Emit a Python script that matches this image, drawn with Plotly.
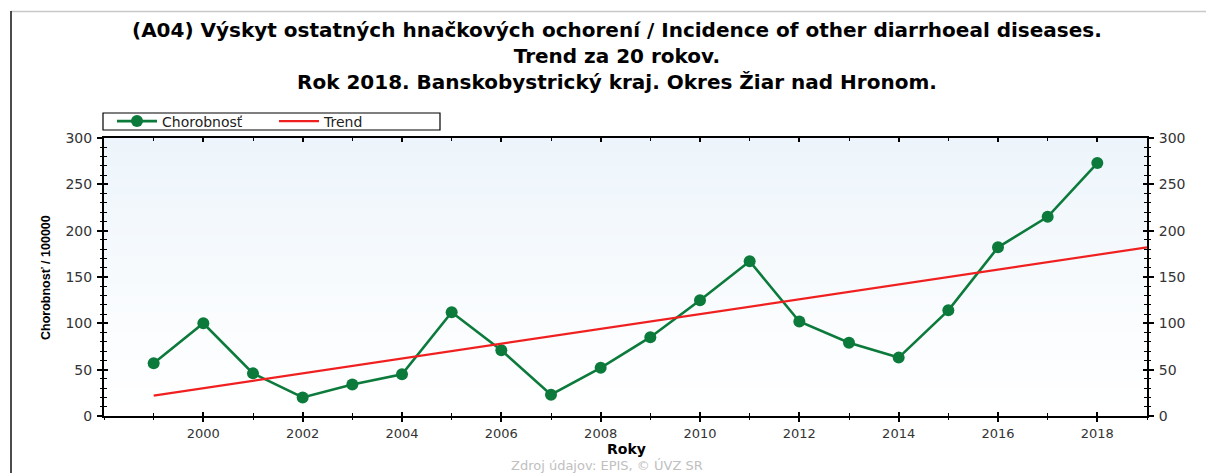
import plotly.graph_objects as go

years = list(range(1999, 2019))
chorobnost = [57, 100, 46, 20, 34, 45, 112, 71, 23, 52, 85, 125, 167, 102, 79, 63, 114, 182, 215, 273]
trend_years = [1999, 2019]
trend_vals = [22, 182]
x_tickvals = [2000, 2002, 2004, 2006, 2008, 2010, 2012, 2014, 2016, 2018]

title_lines = [
    "(A04) Výskyt ostatných hnačkových ochorení / Incidence of other diarrhoeal diseases.",
    "Trend za 20 rokov.",
    "Rok 2018. Banskobystrický kraj. Okres Žiar nad Hronom.",
]
x_title = "Roky"
y_title = "Chorobnosť / 100000"
source = "Zdroj údajov: EPIS, © ÚVZ SR"

W, H = 1206, 473
L, R, T, B = 104, 1147, 138, 416
pw, ph = R - L, B - T


def px(x):
    return (x - L) / pw


def py(y):
    return (B - y) / ph


GREEN = "#0b7a3b"
RED = "#f02020"
XTICKFONT = dict(family="DejaVu Sans", size=13, color="#333333")
YTICKFONT = dict(family="DejaVu Sans", size=14, color="#333333")

fig = go.Figure()
fig.add_trace(go.Scatter(
    x=years, y=chorobnost, name="Chorobnosť", mode="lines+markers",
    line=dict(color=GREEN, width=2.6),
    marker=dict(color=GREEN, size=12, symbol="circle"),
))
fig.add_trace(go.Scatter(
    x=trend_years, y=trend_vals, name="Trend", mode="lines",
    line=dict(color=RED, width=2.2),
))
# helper traces so overlay axes render
for xa, ya in [("x2", "y"), ("x", "y2"), ("x", "y3")]:
    fig.add_trace(go.Scatter(x=[None], y=[None], xaxis=xa, yaxis=ya,
                             showlegend=False, hoverinfo="skip"))

xr = [1998, 2019]
yr = [0, 300]

# gradient background bands
n = 40
shapes = []
for i in range(n):
    f = i / n
    t = f ** 1.2
    c0 = (255, 255, 255)
    c1 = (236, 244, 251)
    col = tuple(round(c0[k] + (c1[k] - c0[k]) * t) for k in range(3))
    shapes.append(dict(type="rect", xref="paper", yref="paper",
                       x0=0, x1=1, y0=i / n, y1=(i + 1) / n + 0.002,
                       fillcolor="rgb(%d,%d,%d)" % col, line=dict(width=0),
                       layer="below"))
# frame lines outside chart
shapes.append(dict(type="line", xref="paper", yref="paper",
                   x0=px(11), x1=px(1206), y0=py(11.5), y1=py(11.5),
                   line=dict(color="#c8c8c8", width=1.5)))
shapes.append(dict(type="line", xref="paper", yref="paper",
                   x0=px(11), x1=px(11), y0=py(11), y1=py(473),
                   line=dict(color="#111111", width=1.5)))
# legend box
shapes.append(dict(type="rect", xref="paper", yref="paper",
                   x0=px(103), x1=px(440), y0=py(130), y1=py(113),
                   fillcolor="white", line=dict(color="black", width=1.2)))

annotations = []
annotations.append(dict(
    text="<br>".join("<b>%s</b>" % s for s in title_lines),
    xref="paper", yref="paper",
    x=px(617), y=py(56), xanchor="center", yanchor="middle", align="center",
    showarrow=False, font=dict(family="DejaVu Sans", size=20, color="#000")))
annotations.append(dict(
    text="<b>%s</b>" % y_title, xref="paper", yref="paper",
    x=px(46), y=py(278), xanchor="center", yanchor="middle", textangle=-90,
    showarrow=False, font=dict(family="Liberation Sans", size=12.5, color="#000")))
annotations.append(dict(
    text="<b>%s</b>" % x_title, xref="paper", yref="paper",
    x=px(626), y=py(449), xanchor="center", yanchor="middle",
    showarrow=False, font=dict(family="DejaVu Sans", size=14, color="#000")))
annotations.append(dict(
    text=source, xref="paper", yref="paper",
    x=px(607), y=py(465), xanchor="center", yanchor="middle",
    showarrow=False, font=dict(family="DejaVu Sans", size=13, color="#c0c0c0")))

fig.update_layout(
    width=W, height=H,
    margin=dict(l=L, r=W - R, t=T, b=H - B, pad=0),
    paper_bgcolor="white", plot_bgcolor="white",
    shapes=shapes, annotations=annotations,
    showlegend=True,
    legend=dict(
        orientation="h", x=px(112), y=py(121.5), xanchor="left", yanchor="middle",
        bgcolor="rgba(0,0,0,0)", borderwidth=0,
        font=dict(family="DejaVu Sans", size=14, color="#222"),
        entrywidth=107, itemwidth=40,
    ),
    xaxis=dict(range=xr, showgrid=False, zeroline=False, showline=True,
               linecolor="black", linewidth=1.5, mirror="ticks",
               ticks="inside", ticklen=4, tickcolor="black", tickwidth=1.5,
               tickvals=x_tickvals, showticklabels=False,
               minor=dict(ticks="inside", ticklen=3, dtick=1, tickcolor="black", tickwidth=1)),
    xaxis2=dict(range=xr, overlaying="x", side="bottom", anchor="y",
                showgrid=False, zeroline=False, showline=False,
                ticks="outside", ticklen=5, tickcolor="black", tickwidth=1.5,
                tickvals=x_tickvals, tickfont=XTICKFONT,
                minor=dict(ticks="outside", ticklen=3, dtick=1, tickcolor="black", tickwidth=1)),
    yaxis=dict(range=yr, showgrid=False, zeroline=False, showline=True,
               linecolor="black", linewidth=1.5, mirror="ticks",
               ticks="inside", ticklen=4, tickcolor="black", tickwidth=1.5,
               dtick=50, showticklabels=False,
               minor=dict(ticks="inside", ticklen=3, dtick=10, tickcolor="black", tickwidth=1)),
    yaxis2=dict(range=yr, overlaying="y", side="left", anchor="x",
                showgrid=False, zeroline=False, showline=False,
                ticks="outside", ticklen=6, tickcolor="black", tickwidth=1.5,
                dtick=50, tickfont=YTICKFONT, ticklabelstandoff=2,
                minor=dict(ticks="outside", ticklen=3, dtick=10, tickcolor="black", tickwidth=1)),
    yaxis3=dict(range=yr, overlaying="y", side="right", anchor="x",
                showgrid=False, zeroline=False, showline=False,
                ticks="outside", ticklen=6, tickcolor="black", tickwidth=1.5,
                dtick=50, tickfont=YTICKFONT, ticklabelstandoff=2,
                minor=dict(ticks="outside", ticklen=3, dtick=10, tickcolor="black", tickwidth=1)),
)

fig.write_html("out.html", post_script="document.body.style.margin='0';",
               config={"displayModeBar": False})
